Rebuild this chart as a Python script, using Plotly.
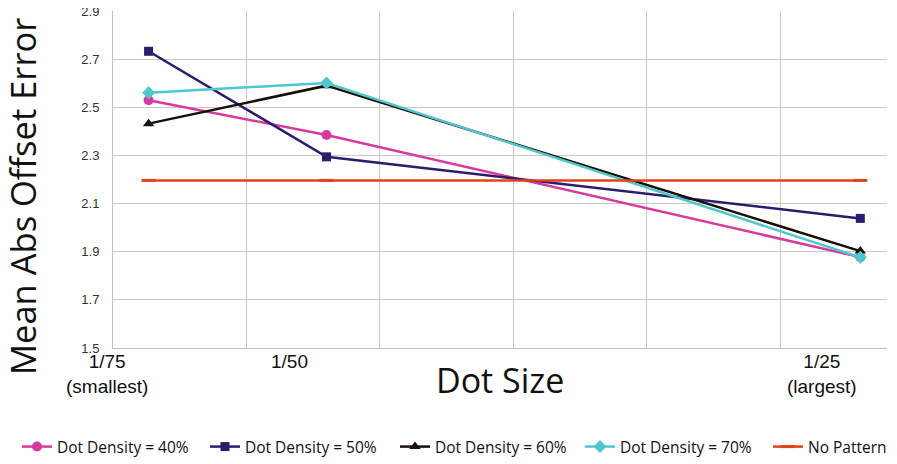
import plotly.graph_objects as go

# Data
dot_sizes = [1/75, 1/50, 1/25]
series_names = ["Dot Density = 40%", "Dot Density = 50%", "Dot Density = 60%",
                "Dot Density = 70%", "No Pattern"]
density_40 = [2.53, 2.386, 1.878]
density_50 = [2.734, 2.295, 2.039]
density_60 = [2.433, 2.591, 1.903]
density_70 = [2.562, 2.602, 1.877]
no_pattern = [2.197, 2.197, 2.197]
x_label_pos = [0.01178, 0.0186, 0.03858]
x_label_text = ["1/75<br>(smallest)", "1/50", "1/25<br>(largest)"]

colors = ["#D8399C", "#2B1C6C", "#1A0F08", "#4EC8CE", "#E0401C"]
symbols = ["circle", "square", "triangle-up", "diamond", "line-ew"]
values = [density_40, density_50, density_60, density_70, no_pattern]
legend_x_px = [9, 197, 387, 572, 760]

W, H = 889, 456  # page body has an 8px margin
X0, X1 = 0.012, 0.041

fig = go.Figure()
legend_layouts = {}
for i, (name, vals, c, s) in enumerate(zip(series_names, values, colors, symbols)):
    lg = "legend" if i == 0 else f"legend{i + 1}"
    if s == "line-ew":
        marker = dict(symbol=s, size=10, line=dict(color=c, width=3), color=c)
    else:
        marker = dict(symbol=s, size=10 if s != "square" else 9, color=c)
    fig.add_trace(go.Scatter(x=dot_sizes, y=vals, name=name, mode="lines+markers",
                             line=dict(color=c, width=2.5), marker=marker, legend=lg))
    legend_layouts[lg] = dict(orientation="h", xref="container", yref="container",
                              x=legend_x_px[i] / W, xanchor="left",
                              y=(H - 439) / H, yanchor="middle",
                              font=dict(family="Open Sans", size=15.5, color="#111"),
                              bgcolor="rgba(0,0,0,0)")

annotations = []
for xp, t in zip(x_label_pos, x_label_text):
    annotations.append(dict(x=(xp - X0) / (X1 - X0), y=0, xref="paper", yref="paper", text=t,
                            showarrow=False, xanchor="center", yanchor="top", yshift=-1,
                            font=dict(family="Liberation Sans, Arial", size=19, color="#111")))
annotations.append(dict(x=0.5, y=-0.095, xref="paper", yref="paper", text="Dot Size",
                        showarrow=False, xanchor="center", yanchor="middle",
                        font=dict(family="Open Sans", size=34, color="#111")))
annotations.append(dict(x=-0.1176, y=0.451, xref="paper", yref="paper",
                        text="Mean Abs Offset Error", textangle=-90,
                        showarrow=False, xanchor="center", yanchor="middle",
                        font=dict(family="Open Sans", size=34.5, color="#111")))

fig.update_layout(
    width=W, height=H,
    margin=dict(l=105, r=10, t=3, b=116, autoexpand=False),
    plot_bgcolor="white", paper_bgcolor="white",
    font=dict(family="Liberation Sans, Arial", color="#333"),
    showlegend=True,
    annotations=annotations,
    xaxis=dict(range=[X0, X1], tick0=X0, dtick=0.005,
               showticklabels=False, showgrid=True, gridcolor="#C8C8C8",
               gridwidth=1, zeroline=False, showline=True, linecolor="#C0C0C0",
               linewidth=1, ticks=""),
    yaxis=dict(range=[1.5, 2.9015], tick0=1.5, dtick=0.2, tickformat=".1f",
               showgrid=True, gridcolor="#C8C8C8", gridwidth=1, zeroline=False,
               showline=True, linecolor="#C0C0C0", linewidth=1, ticks="",
               tickfont=dict(family="Liberation Sans, Arial", size=13, color="#333"),
               ticklabelstandoff=10, ticklabeloverflow="allow"),
    **legend_layouts,
)

fig.write_html("out.html")
